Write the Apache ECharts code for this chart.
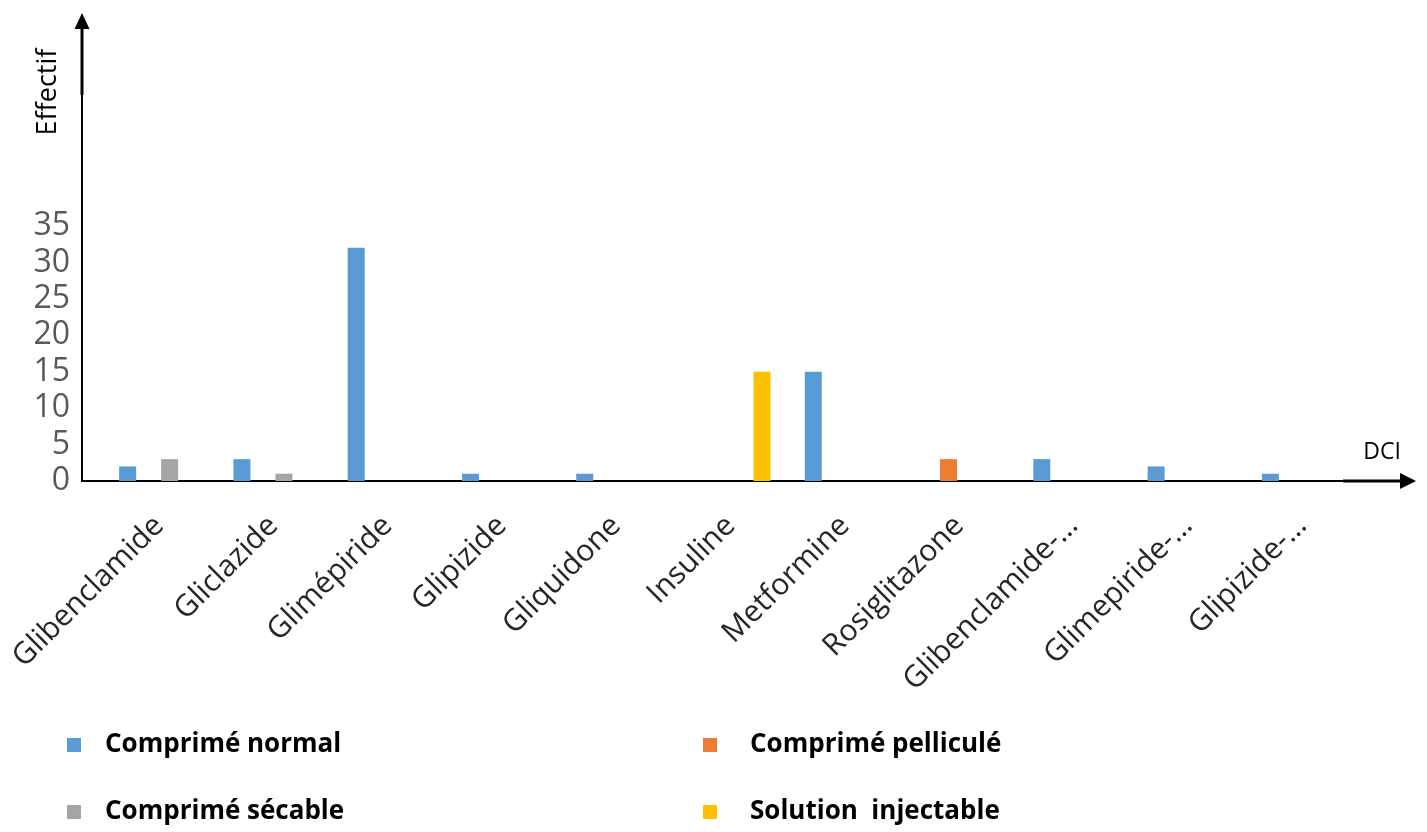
<!DOCTYPE html>
<html>
<head>
<meta charset="utf-8">
<title>Effectif par DCI et forme galénique</title>
<script src="https://cdn.jsdelivr.net/npm/echarts@6/dist/echarts.min.js"></script>
<style>
  html, body { margin: 0; padding: 0; background: #ffffff; }
  #chart { width: 1427px; height: 832px; }
</style>
</head>
<body>
<div id="chart"></div>
<script>
// DCI (categories on the horizontal axis)
const categories = [
  'Glibenclamide', 'Gliclazide', 'Glimépiride', 'Glipizide', 'Gliquidone',
  'Insuline', 'Metformine', 'Rosiglitazone', 'Glibenclamide-…',
  'Glimepiride-…', 'Glipizide-…'
];

// Effectif by galenic form
const comprimeNormal     = [2, 3, 32, 1, 1, 0, 15, 0, 3, 2, 1];
const comprimePellicule  = [0, 0, 0, 0, 0, 0, 0, 3, 0, 0, 0];
const comprimeSecable    = [3, 1, 0, 0, 0, 0, 0, 0, 0, 0, 0];
const solutionInjectable = [0, 0, 0, 0, 0, 15, 0, 0, 0, 0, 0];

// Value axis ticks
const yMin = 0;
const yMax = 35;
const yStep = 5;

const FONT = "'Open Sans', 'Noto Sans', sans-serif";
const GRID = { left: 102, right: 68, top: 226, bottom: 351 };

const chart = echarts.init(document.getElementById('chart'), null, { renderer: 'canvas' });

function barSeries(name, data, color) {
  return {
    name: name,
    type: 'bar',
    data: data,
    barWidth: 17,
    barGap: '23.5%',
    itemStyle: { color: color },
    emphasis: { disabled: true }
  };
}

const legendText = { color: '#000000', fontFamily: FONT, fontWeight: 'bold', fontSize: 26, lineHeight: 30 };

chart.setOption({
  backgroundColor: '#ffffff',
  animation: false,
  grid: GRID,
  xAxis: {
    type: 'category',
    data: categories,
    axisLine: { show: false },
    axisTick: { show: false },
    axisLabel: {
      rotate: 45,
      margin: 40,
      interval: 0,
      color: '#262626',
      fontFamily: FONT,
      fontSize: 30
    }
  },
  yAxis: {
    type: 'value',
    min: yMin,
    max: yMax,
    interval: yStep,
    axisLine: { show: false },
    axisTick: { show: false },
    splitLine: { show: false },
    axisLabel: {
      margin: 32,
      color: '#595959',
      fontFamily: FONT,
      fontSize: 32
    }
  },
  legend: [
    {
      orient: 'vertical',
      left: 67,
      top: 730,
      padding: 0,
      itemWidth: 14,
      itemHeight: 14,
      itemGap: 37,
      icon: 'rect',
      selectedMode: false,
      data: ['Comprimé normal', 'Comprimé sécable'],
      textStyle: Object.assign({ padding: [0, 0, 0, 19] }, legendText)
    },
    {
      orient: 'vertical',
      left: 703,
      top: 730,
      padding: 0,
      itemWidth: 14,
      itemHeight: 14,
      itemGap: 37,
      icon: 'rect',
      selectedMode: false,
      data: ['Comprimé pelliculé', 'Solution  injectable'],
      textStyle: Object.assign({ padding: [0, 0, 0, 28] }, legendText)
    }
  ],
  series: [
    barSeries('Comprimé normal', comprimeNormal, '#5B9BD5'),
    barSeries('Comprimé pelliculé', comprimePellicule, '#ED7D31'),
    barSeries('Comprimé sécable', comprimeSecable, '#A5A5A5'),
    barSeries('Solution  injectable', solutionInjectable, '#FFC000')
  ]
});

// Arrowed axes drawn around the plot, anchored on the zero line of the value axis
const y0 = chart.convertToPixel({ yAxisIndex: 0 }, 0);
const axisX = GRID.left - 20;
const yTip = 13;
const xTip = 1416;
const lineStyle = { stroke: '#000000', lineWidth: 2 };
const boldStyle = { stroke: '#000000', lineWidth: 3 };

chart.setOption({
  graphic: [
    { type: 'line', shape: { x1: axisX, y1: y0, x2: axisX, y2: yTip + 14 }, style: lineStyle, silent: true },
    { type: 'line', shape: { x1: axisX, y1: 95, x2: axisX, y2: yTip + 14 }, style: boldStyle, silent: true },
    { type: 'polygon', shape: { points: [[axisX, yTip], [axisX - 7.5, yTip + 16], [axisX + 7.5, yTip + 16]] }, style: { fill: '#000000' }, silent: true },
    { type: 'line', shape: { x1: axisX - 1, y1: y0, x2: xTip - 14, y2: y0 }, style: lineStyle, silent: true },
    { type: 'line', shape: { x1: 1343, y1: y0, x2: xTip - 14, y2: y0 }, style: boldStyle, silent: true },
    { type: 'polygon', shape: { points: [[xTip, y0], [xTip - 16, y0 - 8], [xTip - 16, y0 + 8]] }, style: { fill: '#000000' }, silent: true },
    {
      type: 'text', x: 48, y: 92, rotation: Math.PI / 2, silent: true,
      style: { text: 'Effectif', fill: '#000000', font: '27px ' + FONT, align: 'center', verticalAlign: 'middle' }
    },
    {
      type: 'text', x: 1382, y: 452, silent: true,
      style: { text: 'DCI', fill: '#000000', font: '23px ' + FONT, align: 'center', verticalAlign: 'middle' }
    }
  ]
});
</script>
</body>
</html>
